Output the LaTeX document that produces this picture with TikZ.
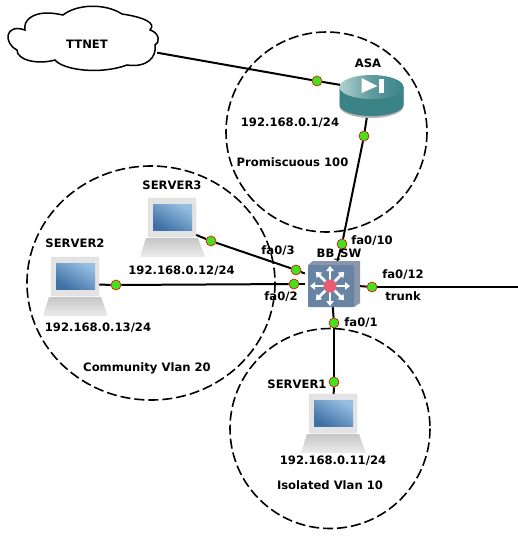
\documentclass[tikz,border=0pt]{standalone}
\usepackage{fontspec}
\setmainfont{DejaVu Sans}
\usetikzlibrary{arrows.meta,positioning}
\definecolor{screenblue}{RGB}{62,112,165}
\definecolor{screenlight}{RGB}{150,190,225}
\definecolor{asabody}{RGB}{58,132,136}
\definecolor{asalight}{RGB}{178,208,210}
\definecolor{swfront}{RGB}{104,132,165}
\definecolor{swside}{RGB}{140,150,170}
\definecolor{swhub}{RGB}{232,92,116}
\definecolor{portgreen}{RGB}{70,225,30}
\tikzset{
  pcicon/.pic={
    \shade[top color=gray!45,bottom color=gray!15](-26,13)--(26,13)--(33,32)--(-32,32)--cycle;
    \fill[gray!22,draw=gray!30,rounded corners=2pt](-24,-27)rectangle(24,12);
    \shade[top color=screenlight,bottom color=screenblue,shading angle=-30](-19,-21)rectangle(20,5);
  },
  asaicon/.pic={
    \fill[gray!60](-32,0)--(-32,19)arc[start angle=180,end angle=0,x radius=32,y radius=12]--(32,0)--cycle;
    \fill[asabody](-32,0)--(-32,18)arc[start angle=180,end angle=0,x radius=32,y radius=11]--(32,0)--cycle;
    \shade[left color=asalight,right color=asabody,middle color=asabody!70!asalight](0,0)ellipse[x radius=32,y radius=12];
    \fill[white](-10,-9)--(6,-1)--(-10,6)--cycle;
    \fill[white](7,-8)rectangle(12,6);
  },
  swicon/.pic={
    \fill[swside](-22,-21)--(-17,-25)--(30,-25)--(30,17)--(24,21)--cycle;
    \fill[swfront,rounded corners=1pt](-22,-21)rectangle(24,21);
    \foreach \ang in {0,45,...,315}{
      \draw[white,line width=2.6pt,-{Triangle[length=5pt,width=7.5pt]}](\ang:6)--(\ang:20);
    }
    \fill[swhub](0,0)circle(6.5);
  }
}
\begin{document}
\begin{tikzpicture}[x=1pt,y=-1pt,
  host/.style={minimum width=46pt,minimum height=40pt,inner sep=0pt},
  portdot/.style={circle,draw=red!90!black,fill=portgreen,line width=.6pt,minimum size=10pt,inner sep=0pt},
  link/.style={line width=2pt},
  zone/.style={line width=1.6pt,dash pattern=on 10pt off 4pt},
  txt/.style={font=\bfseries\fontsize{11.6pt}{13pt}\selectfont,inner sep=0pt}]
\useasboundingbox (0,0) rectangle (518,539);
\draw[zone] (326.5,132) ellipse [x radius=100.5,y radius=100];
\draw[zone] (151,283) ellipse [x radius=124,y radius=117];
\draw[zone] (330,428.5) ellipse [x radius=100,y radius=100];
\draw[line width=1.5pt,fill=white] (25,30) .. controls (23,20) and (33,13) .. (47,13) .. controls (53,13) and (58,14) .. (63,15)
  .. controls (77,4) and (105,3) .. (122,14) .. controls (143,17) and (157,23) .. (150,30)
  .. controls (160,33) and (160,43) .. (155,45) .. controls (157,57) and (147,68) .. (127,65)
  .. controls (100,75) and (63,70) .. (55,60) .. controls (37,65) and (17,60) .. (17,50)
  .. controls (3,43) and (5,23) .. (25,30) -- cycle;
\node[minimum width=144pt,minimum height=50pt,inner sep=0pt] (ttnetcloud) at (85,40) {};
\node[host] (asa) at (371,90) {};
\node[inner sep=0pt,minimum width=52pt,minimum height=46pt] (bbsw) at (331,284) {};
\node[host] (srv3) at (172,225) {};
\node[host] (srv2) at (75,284) {};
\node[host] (srv1) at (333,421) {};
\coordinate (trunkend) at (518,287);
\node[portdot] (p1) at (317,81) {};
\node[portdot] (p2) at (364,136) {};
\node[portdot] (p3) at (342,244) {};
\node[portdot] (p4) at (372,287) {};
\node[portdot] (p5) at (334,323) {};
\node[portdot] (p6) at (334,382) {};
\node[portdot] (p7) at (296,270) {};
\node[portdot] (p8) at (294,284) {};
\node[portdot] (p9) at (211,241) {};
\node[portdot] (p10) at (116,285) {};
\draw[link](ttnetcloud)--(p1);\draw[link](p1)--(asa);
\draw[link](asa)--(p2);\draw[link](p2)--(p3);\draw[link](p3)--(bbsw);
\draw[link](bbsw)--(p4);\draw[link](p4)--(trunkend);
\draw[link](bbsw)--(p5);\draw[link](p5)--(p6);\draw[link](p6)--(srv1);
\draw[link](bbsw)--(p7);\draw[link](p7)--(p9);\draw[link](p9)--(srv3);
\draw[link](bbsw)--(p8);\draw[link](p8)--(p10);\draw[link](p10)--(srv2);
\pic at (371.5,87) {asaicon};
\pic at (330,286) {swicon};
\pic at (172,225) {pcicon};
\pic at (75,284) {pcicon};
\pic at (333,421) {pcicon};
\node[txt] (ttnetlabel) at (87,44) {TTNET};
\node[txt] (asalabel) at (368,63) {ASA};
\node[txt] (asaip) at (290,123) {192.168.0.1/24};
\node[txt] (promis) at (292.5,162) {Promiscuous 100};
\node[txt] (srv3label) at (172,185) {SERVER3};
\node[txt] (srv2label) at (75,243) {SERVER2};
\node[txt] (srv3ip) at (181.5,271) {192.168.0.12/24};
\node[txt] (fa3) at (278,251) {fa0/3};
\node[txt] (fa2) at (281,297) {fa0/2};
\node[txt] (fa10) at (372,241) {fa0/10};
\node[txt] (swlabel) at (339,255) {BB\_SW};
\node[txt] (fa12) at (403,275) {fa0/12};
\node[txt] (trunklabel) at (403,296) {trunk};
\node[txt] (fa1) at (361,323) {fa0/1};
\node[txt] (srv2ip) at (98,328) {192.168.0.13/24};
\node[txt] (community) at (147,368) {Community Vlan 20};
\node[txt] (srv1label) at (297,384) {SERVER1};
\node[txt] (srv1ip) at (333,461) {192.168.0.11/24};
\node[txt] (isolated) at (330,485) {Isolated Vlan 10};
\end{tikzpicture}
\end{document}
